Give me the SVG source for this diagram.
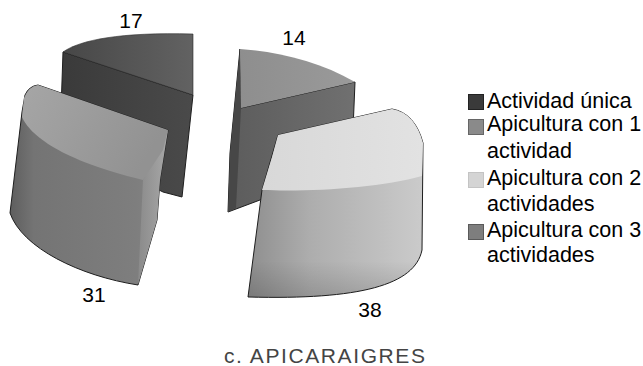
<svg xmlns="http://www.w3.org/2000/svg" width="643" height="366" viewBox="0 0 643 366">
<style>
.lbl{font-family:"Liberation Sans",Arial,sans-serif;font-size:21px;fill:#000;text-anchor:middle}
.leg{font-family:"Liberation Sans",Arial,sans-serif;font-size:21.5px;fill:#000}
.ttl{font-family:"Liberation Sans",Arial,sans-serif;font-size:21px;fill:#444;letter-spacing:1.6px}
.edge{stroke:#1e1e1e;stroke-width:1;stroke-linejoin:round}
</style>
<defs>
<linearGradient id="g17side" x1="0" y1="0" x2="1" y2="0">
<stop offset="0" stop-color="#3a3a3a"/><stop offset="1" stop-color="#4a4a4a"/>
</linearGradient>
<linearGradient id="g17top" x1="0" y1="0" x2="1" y2="0">
<stop offset="0" stop-color="#474747"/><stop offset="1" stop-color="#626262"/>
</linearGradient>
<linearGradient id="g31front" x1="0" y1="0" x2="1" y2="0">
<stop offset="0" stop-color="#5e5e5e"/><stop offset="0.15" stop-color="#747474"/><stop offset="0.8" stop-color="#7e7e7e"/><stop offset="1" stop-color="#888"/>
</linearGradient>
<linearGradient id="g31top" x1="0" y1="0" x2="1" y2="0.4">
<stop offset="0" stop-color="#a6a6a6"/><stop offset="1" stop-color="#929292"/>
</linearGradient>
<linearGradient id="g31strip" x1="0" y1="0" x2="1" y2="0">
<stop offset="0" stop-color="#8a8a8a"/><stop offset="1" stop-color="#a8a8a8"/>
</linearGradient>
<linearGradient id="g14side" x1="0" y1="0" x2="1" y2="0">
<stop offset="0" stop-color="#5c5c5c"/><stop offset="1" stop-color="#707070"/>
</linearGradient>
<linearGradient id="g14top" x1="0" y1="0" x2="1" y2="0">
<stop offset="0" stop-color="#8e8e8e"/><stop offset="1" stop-color="#9a9a9a"/>
</linearGradient>
<linearGradient id="g38front" x1="0" y1="0" x2="1" y2="0">
<stop offset="0" stop-color="#8e8e8e"/><stop offset="0.35" stop-color="#adadad"/><stop offset="1" stop-color="#cbcbcb"/>
</linearGradient>
<linearGradient id="g38top" x1="0" y1="0" x2="1" y2="0">
<stop offset="0" stop-color="#d8d8d8"/><stop offset="1" stop-color="#e2e2e2"/>
</linearGradient>
<linearGradient id="gshade" x1="0" y1="0" x2="0" y2="1">
<stop offset="0" stop-color="#000" stop-opacity="0"/><stop offset="0.7" stop-color="#000" stop-opacity="0"/><stop offset="1" stop-color="#000" stop-opacity="0.15"/>
</linearGradient>
</defs>

<g id="slice-17">
<path class="edge" d="M63,52 L193,95 L182,197 L163,192 L120,170 L60,140 Z" fill="url(#g17side)"/>
<path d="M63,52 C80,40 120,32 193,34 L193,95 Z" fill="url(#g17top)" stroke="#2a2a2a" stroke-width="0.6"/>
</g>

<g id="slice-31">
<path class="edge" d="M25,95 Q29,86 38,85 L168,130 L160,180 L157,220 L138,285 C80,276 22,248 10,213 L22,112 Z" fill="url(#g31front)"/>
<path d="M168,130 L160,180 L157,220 L138,285 L143,180 Z" fill="url(#g31strip)"/>
<path d="M38,85 L168,130 L163,150 L143,180 C60,160 30,135 22,117 L24,98 Q29,86 38,85 Z" fill="url(#g31top)"/>
</g>

<g id="slice-14">
<path class="edge" d="M240,49 L241,108 L355,82 L353,130 L260,200 L228,212 L230,153 Z" fill="url(#g14side)"/>
<path d="M240,49 L241,108 L236,208 L228,212 L230,153 Z" fill="#474747"/>
<path d="M240,49 C280,52 320,62 355,82 L241,108 Z" fill="url(#g14top)"/>
</g>

<g id="slice-38">
<path class="edge" d="M278,135 L392,109 Q415,113 423,143 L422,250 C415,285 360,300 248,297 L262,190 Z" fill="url(#g38front)"/>
<path d="M262,190 C310,192 380,188 422,176 L422,250 C415,285 360,300 248,297 Z" fill="url(#gshade)"/>
<path d="M278,135 L392,109 Q415,113 423,143 L422,176 C380,188 310,192 262,190 L272,157 Z" fill="url(#g38top)"/>
</g>

<g id="data-labels">
<text class="lbl" x="131" y="28">17</text>
<text class="lbl" x="294" y="45">14</text>
<text class="lbl" x="94" y="302">31</text>
<text class="lbl" x="370" y="317">38</text>
</g>

<g id="legend">
<g id="legend-1">
<rect x="468.5" y="94.5" width="15" height="15" fill="#3a3a3a" stroke="#222" stroke-width="1"/>
<text class="leg" x="487" y="108">Actividad única</text>
</g>
<g id="legend-2">
<rect x="468.5" y="119.5" width="15" height="15" fill="#8a8a8a" stroke="#666" stroke-width="1"/>
<text class="leg" x="487" y="131">Apicultura con 1</text>
<text class="leg" x="487" y="158">actividad</text>
</g>
<g id="legend-3">
<rect x="468.5" y="172.5" width="15" height="15" fill="#d4d4d4" stroke="#c4c4c4" stroke-width="1"/>
<text class="leg" x="487" y="185">Apicultura con 2</text>
<text class="leg" x="487" y="211">actividades</text>
</g>
<g id="legend-4">
<rect x="468.5" y="224.5" width="15" height="15" fill="#7e7e7e" stroke="#5a5a5a" stroke-width="1"/>
<text class="leg" x="487" y="237">Apicultura con 3</text>
<text class="leg" x="487" y="262">actividades</text>
</g>
</g>

<text id="title" class="ttl" x="224" y="363">c. APICARAIGRES</text>
</svg>
